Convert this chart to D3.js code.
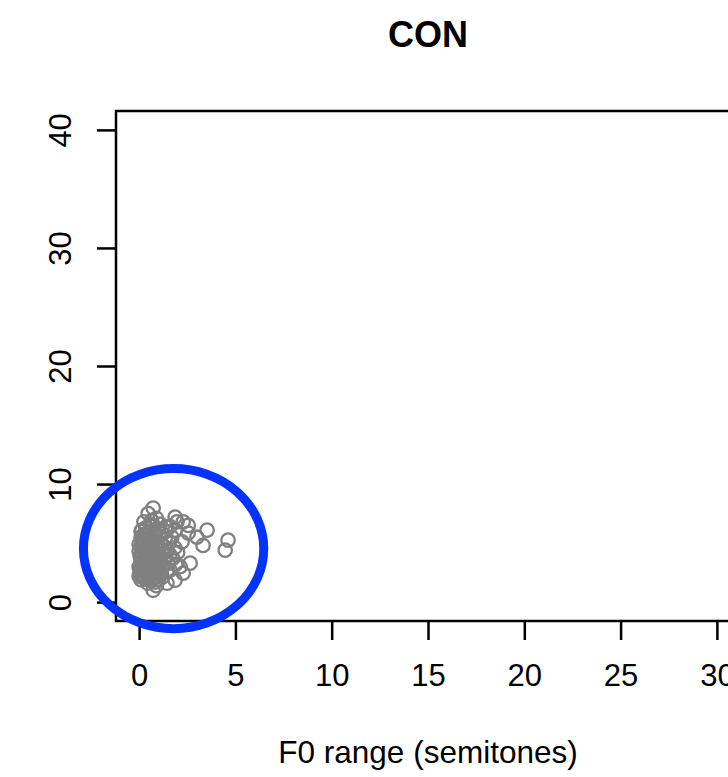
<!DOCTYPE html>
<html><head><meta charset="utf-8">
<script src="https://cdn.jsdelivr.net/npm/d3@7"></script>
<style>body{margin:0;background:#fff}svg{display:block}text{font-family:"Liberation Sans",Arial,Helvetica,sans-serif}</style>
</head><body>
<script>
const title = "CON";
const xLabel = "F0 range (semitones)";
const xTicks = [0,5,10,15,20,25,30];
const yTicks = [0,10,20,30,40];
const pointsX = [0.1,0.2,0.05,0.3,0.15,0.4,0.1,0.25,0.05,0.35,0.2,0.1,0.3,0.15,0.4,0.25,0.5,0.35,0.6,0.45,0.6,0.55,0.7,0.5,0.75,0.6,0.85,0.55,0.8,0.65,0.9,0.7,0.95,0.6,0.85,0.75,1.0,0.9,1.0,1.1,0.95,1.2,1.05,1.3,1.1,1.25,1.0,1.3,1.15,1.35,1.2,0.3,0.45,0.2,0.5,0.35,0.45,0.55,0.3,0.7,0.8,0.9,0.65,1.45,1.5,1.6,1.45,1.55,1.7,1.4,1.6,1.75,1.85,1.9,2.0,0.15,0.65,0.9,0.25,1.1,
  0.73,0.47,1.87,2.29,2.55,3.53,4.62,4.47,3.32,2.23,2.55,3.0,1.87,1.45,1.97,2.65,2.29,1.87,1.45,0.73,2.13,1.6,
  0.0,0.05,0.1,0.0,0.2,0.1,0.0,0.15,0.3,0.25,0.4,0.5,0.35,0.6,0.45,0.7,0.8,0.65,0.9,1.0,0.55,0.75,0.85,1.05,0.4,0.2,0.0,0.3,0.95,1.15,0.5,0.7,1.2,0.1,0.6,0.85];
const pointsY = [1.9,2.1,2.4,2.6,2.9,3.1,3.3,3.6,3.9,4.1,4.4,4.7,4.9,5.2,5.4,5.7,6.0,6.3,6.6,1.6,1.8,2.2,2.5,2.8,3.0,3.3,3.5,3.8,4.0,4.3,4.5,4.8,5.0,5.3,5.6,5.9,6.2,1.4,1.9,2.3,2.7,2.9,3.2,3.5,3.8,4.1,4.4,4.7,5.0,5.4,5.8,2.0,2.4,3.0,3.5,3.9,4.6,5.1,5.6,3.7,2.2,3.9,2.0,2.6,3.3,4.0,4.4,5.1,5.5,6.0,6.4,3.7,4.6,3.2,4.2,6.1,6.9,7.1,6.8,6.6,
  7.97,7.5,7.2,6.8,6.5,6.1,5.25,4.4,4.8,5.1,5.85,5.5,6.1,6.35,6.8,3.3,2.45,1.85,1.6,1.0,3.0,2.7,
  2.2,2.8,3.5,4.3,5.0,5.5,3.0,4.0,4.5,2.3,2.7,3.2,3.4,2.9,4.9,4.1,3.3,5.6,2.5,3.0,4.2,2.0,4.8,4.6,5.8,2.6,4.9,3.8,3.6,2.5,5.3,6.4,2.1,6.0,3.9,1.7];
const ellipseCenter = [1.79, 4.53];
const ellipseRadii = [4.68, 6.78];

const W = 728, H = 777;
const svg = d3.select("body").append("svg").attr("width", W).attr("height", H);
const x = d3.scaleLinear().domain([-1.2, 31.2]).range([116, 740]);
const y = d3.scaleLinear().domain([-1.6, 41.6]).range([621, 111]);

svg.append("rect").attr("x", 116).attr("y", 111).attr("width", 740-116).attr("height", 621-111)
  .attr("fill", "none").attr("stroke", "#000").attr("stroke-width", 2.5);

const xa = svg.append("g").attr("transform", "translate(0,621)")
  .call(d3.axisBottom(x).tickValues(xTicks).tickSize(19).tickPadding(24).tickFormat(d3.format("d")));
xa.select(".domain").remove();
xa.selectAll("line").attr("stroke-width", 2.5);
xa.selectAll("text").attr("font-size", 31).attr("fill", "#000").attr("font-family", "Liberation Sans, Arial, sans-serif");

const ya = svg.append("g").attr("transform", "translate(116,0)")
  .call(d3.axisLeft(y).tickValues(yTicks).tickSize(19).tickFormat(d3.format("d")));
ya.select(".domain").remove();
ya.selectAll("line").attr("stroke-width", 2.5);
ya.selectAll("text").attr("font-size", 31).attr("fill", "#000").attr("font-family", "Liberation Sans, Arial, sans-serif")
  .attr("x", null).attr("dy", null).attr("text-anchor", "middle")
  .attr("transform", "translate(-45,0) rotate(-90)");

const pts = pointsX.map((d, i) => [d, pointsY[i]]);
svg.append("g").selectAll("circle").data(pts).join("circle")
  .attr("cx", d => x(d[0])).attr("cy", d => y(d[1])).attr("r", 6.7)
  .attr("fill", "none").attr("stroke", "#808080").attr("stroke-width", 2.3);

svg.append("ellipse")
  .attr("cx", x(ellipseCenter[0])).attr("cy", y(ellipseCenter[1]))
  .attr("rx", x(ellipseCenter[0] + ellipseRadii[0]) - x(ellipseCenter[0]))
  .attr("ry", y(ellipseCenter[1]) - y(ellipseCenter[1] + ellipseRadii[1]))
  .attr("fill", "none").attr("stroke", "#0433ff").attr("stroke-width", 9);

svg.append("text").attr("x", 428).attr("y", 47).attr("text-anchor", "middle")
  .attr("font-size", 36).attr("font-weight", "bold").text(title);
svg.append("text").attr("x", 428).attr("y", 763).attr("text-anchor", "middle")
  .attr("font-size", 31.5).text(xLabel);
</script>
</body></html>
